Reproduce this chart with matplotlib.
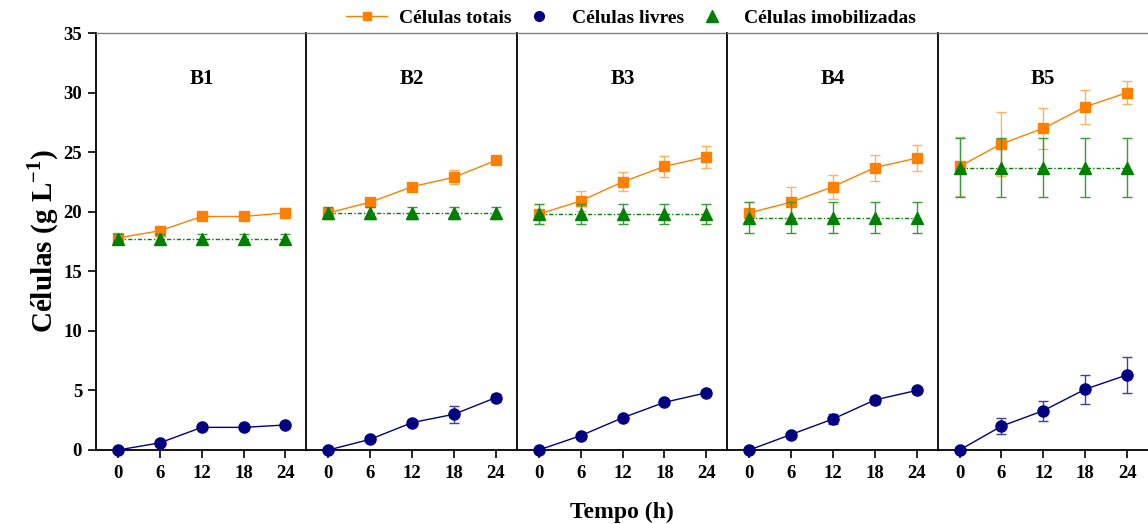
import numpy as np
import matplotlib
matplotlib.use("Agg")
import matplotlib.pyplot as plt
from matplotlib.lines import Line2D

plt.rcParams['font.family'] = ['Liberation Serif', 'DejaVu Serif']
plt.rcParams['font.weight'] = 'bold'
plt.rcParams['mathtext.fontset'] = 'custom'
plt.rcParams['mathtext.rm'] = 'Liberation Serif:bold'
plt.rcParams['mathtext.bf'] = 'Liberation Serif:bold'

tempo = [0, 6, 12, 18, 24]
paineis = ["B1", "B2", "B3", "B4", "B5"]

# Células totais (g/L)
totais = [
    [17.8, 18.4, 19.6, 19.6, 19.9],
    [19.9, 20.8, 22.1, 22.9, 24.3],
    [19.8, 20.9, 22.5, 23.8, 24.6],
    [19.9, 20.8, 22.1, 23.7, 24.5],
    [23.8, 25.7, 27.0, 28.8, 30.0],
]
totais_err = [
    [0.3, 0.3, 0.3, 0.3, 0.4],
    [0.3, 0.3, 0.3, 0.6, 0.3],
    [0.85, 0.85, 0.8, 0.9, 0.9],
    [0.9, 1.3, 1.0, 1.1, 1.1],
    [2.5, 2.7, 1.7, 1.4, 1.0],
]

# Células livres (g/L)
livres = [
    [0.0, 0.6, 1.9, 1.9, 2.1],
    [0.0, 0.9, 2.3, 3.0, 4.4],
    [0.0, 1.2, 2.7, 4.0, 4.8],
    [0.0, 1.3, 2.6, 4.2, 5.0],
    [0.0, 2.0, 3.3, 5.1, 6.3],
]
livres_err = [
    [0.05, 0.1, 0.1, 0.1, 0.1],
    [0.05, 0.1, 0.2, 0.7, 0.3],
    [0.05, 0.1, 0.2, 0.2, 0.2],
    [0.05, 0.1, 0.4, 0.3, 0.2],
    [0.05, 0.65, 0.85, 1.2, 1.5],
]

# Células imobilizadas (g/L)
imobilizadas = [
    [17.7, 17.7, 17.7, 17.7, 17.7],
    [19.9, 19.9, 19.9, 19.9, 19.9],
    [19.8, 19.8, 19.8, 19.8, 19.8],
    [19.5, 19.5, 19.5, 19.5, 19.5],
    [23.7, 23.7, 23.7, 23.7, 23.7],
]
imobilizadas_err = [
    [0.4, 0.4, 0.4, 0.4, 0.4],
    [0.5, 0.5, 0.5, 0.5, 0.5],
    [0.85, 0.85, 0.85, 0.85, 0.85],
    [1.3, 1.3, 1.3, 1.3, 1.3],
    [2.5, 2.5, 2.5, 2.5, 2.5],
]

c_tot = "#FF8000"
c_liv = "#000080"
c_imo = "#008000"

fig = plt.figure(figsize=(11.48, 5.24), dpi=100)

left, bottom, height = 96 / 1148, 1 - 450 / 524, 417 / 524
w = 210.4 / 1148

for i, nome in enumerate(paineis):
    ax = fig.add_axes([left + i * w, bottom, w, height])

    ax.errorbar(tempo, totais[i], yerr=totais_err[i], color=c_tot, lw=1,
                marker="s", ms=7, mec=c_tot, capsize=3.5, elinewidth=1,
                capthick=1, ecolor="#FFB060", zorder=3)
    ax.errorbar(tempo, imobilizadas[i], yerr=imobilizadas_err[i], color=c_imo,
                lw=1, ls=(0, (3, 1.5, 1, 1.5)), marker="^", ms=9, mec=c_imo,
                capsize=3.5, elinewidth=1, capthick=1, ecolor="#3A9A3A", zorder=4)
    ax.errorbar(tempo, livres[i], yerr=livres_err[i], color=c_liv, lw=1,
                marker="o", ms=8, mec=c_liv, capsize=3.5, elinewidth=1,
                capthick=1, ecolor="#4040A0", zorder=5, clip_on=False)

    ax.set_xlim(-3.15, 27)
    ax.set_ylim(0, 35)
    ax.set_xticks(tempo)
    ax.set_xticklabels([str(t) for t in tempo], fontsize=13.5, fontweight="bold")
    ax.tick_params(axis="x", direction="out", length=6, width=1.2, pad=5)

    ax.spines["right"].set_visible(False)
    ax.spines["top"].set_color("#808080")
    ax.spines["top"].set_linewidth(1)
    ax.spines["left"].set_linewidth(1.3)
    ax.spines["bottom"].set_linewidth(1.3)

    if i == 0:
        ax.set_yticks(np.arange(0, 36, 5))
        ax.set_yticklabels([str(v) for v in range(0, 36, 5)], fontsize=13.5,
                           fontweight="bold")
        ax.tick_params(axis="y", direction="out", length=6, width=1.2, pad=4)
        ax.set_ylabel("Células (g L$^{\\mathbf{-1}}$)", fontsize=21,
                      fontweight="bold", labelpad=2)
    else:
        ax.set_yticks([])

    ax.text(12, 31.1, nome, ha="center", va="center", fontsize=15,
            fontweight="bold")

fig.text((96 + 1148) / 2 / 1148, 1 - 512 / 524, "Tempo (h)", ha="center",
         va="center", fontsize=17, fontweight="bold")

handles = [
    Line2D([], [], color=c_tot, lw=1, marker="s", ms=6),
    Line2D([], [], color=c_liv, lw=0, marker="o", ms=7),
    Line2D([], [], color=c_imo, lw=0, marker="^", ms=8),
]
fig.legend(handles, ["Células totais", "Células livres", "Células imobilizadas"],
           loc="center", bbox_to_anchor=(631 / 1148, 1 - 18 / 524), ncol=3,
           frameon=False, handlelength=2.1, columnspacing=0.4,
           handletextpad=0.6, prop={"weight": "bold", "size": 14})

fig.savefig("out.png", dpi=100)
